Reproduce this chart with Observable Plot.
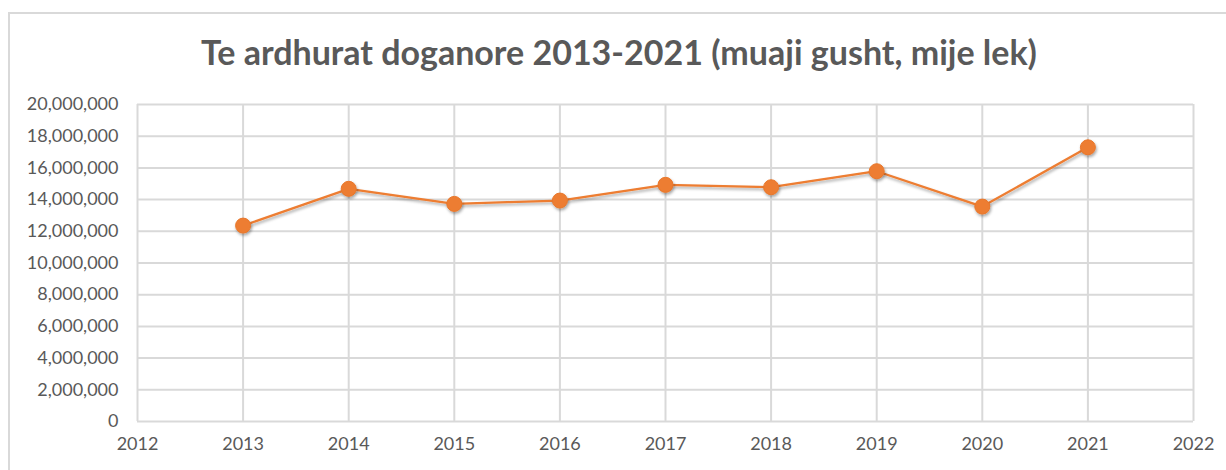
<!DOCTYPE html>
<html>
<head>
<meta charset="utf-8">
<script src="https://cdn.jsdelivr.net/npm/d3@7"></script>
<script src="https://cdn.jsdelivr.net/npm/@observablehq/plot@0.6"></script>
<style>
  html, body { margin: 0; padding: 0; background: #fff; }
  #wrap { position: relative; width: 1226px; height: 470px; overflow: hidden; }
  #frame { position: absolute; left: 8px; top: 12px; width: 1240px; height: 480px; border: 2px solid #d9d9d9; box-sizing: border-box; pointer-events: none; }
  #title { position: relative; height: 90px; line-height: 90px; padding-top: 7px; padding-left: 12px; box-sizing: border-box; text-align: center; font-family: Lato, "Open Sans", sans-serif; font-weight: bold; font-size: 34px; color: #595959; }
  #chart svg { display: block; }
</style>
</head>
<body>
<div id="wrap">
  <div id="frame"></div>
  <div id="title">Te ardhurat doganore 2013-2021 (muaji gusht, mije lek)</div>
  <div id="chart"></div>
</div>
<script>
const years = [2013, 2014, 2015, 2016, 2017, 2018, 2019, 2020, 2021];
const revenue = [12360000, 14680000, 13730000, 13940000, 14930000, 14780000, 15790000, 13560000, 17300000];
const xTicks = [2012, 2013, 2014, 2015, 2016, 2017, 2018, 2019, 2020, 2021, 2022];
const yTicks = [0, 2000000, 4000000, 6000000, 8000000, 10000000, 12000000, 14000000, 16000000, 18000000, 20000000];

const data = years.map((y, i) => ({year: y, value: revenue[i]}));
const gray = "#d9d9d9";
const orange = "#ED7D31";
const txt = "#595959";

const chart = Plot.plot({
  width: 1226,
  height: 380,
  marginLeft: 137,
  marginRight: 33,
  marginTop: 14,
  marginBottom: 49,
  style: {fontFamily: "Lato, 'Open Sans', sans-serif", fontSize: "18px", color: txt, background: "transparent"},
  x: {domain: [2012, 2022], ticks: xTicks, tickFormat: d => String(d), tickSize: 0, tickPadding: 16, label: null},
  y: {domain: [0, 20000000], ticks: yTicks, tickFormat: d3.format(","), tickSize: 0, tickPadding: 19, label: null},
  marks: [
    Plot.gridX(xTicks, {stroke: gray, strokeOpacity: 1, strokeWidth: 2}),
    Plot.gridY(yTicks, {stroke: gray, strokeOpacity: 1, strokeWidth: 2}),
    Plot.line(data, {x: "year", y: "value", stroke: orange, strokeWidth: 2.25, className: "shadowed"}),
    Plot.dot(data, {x: "year", y: "value", r: 7.5, fill: orange, stroke: "#e8772b", strokeWidth: 1, className: "shadowed"})
  ]
});

// soft drop shadow like the original
const ns = "http://www.w3.org/2000/svg";
const defs = document.createElementNS(ns, "defs");
defs.innerHTML = '<filter id="shadow" x="-50%" y="-50%" width="200%" height="200%"><feDropShadow dx="1" dy="2" stdDeviation="1.5" flood-color="#000" flood-opacity="0.35"/></filter>';
chart.insertBefore(defs, chart.firstChild);
chart.querySelectorAll("g.shadowed, .shadowed").forEach(g => g.setAttribute("filter", "url(#shadow)"));

document.getElementById("chart").appendChild(chart);
</script>
</body>
</html>
